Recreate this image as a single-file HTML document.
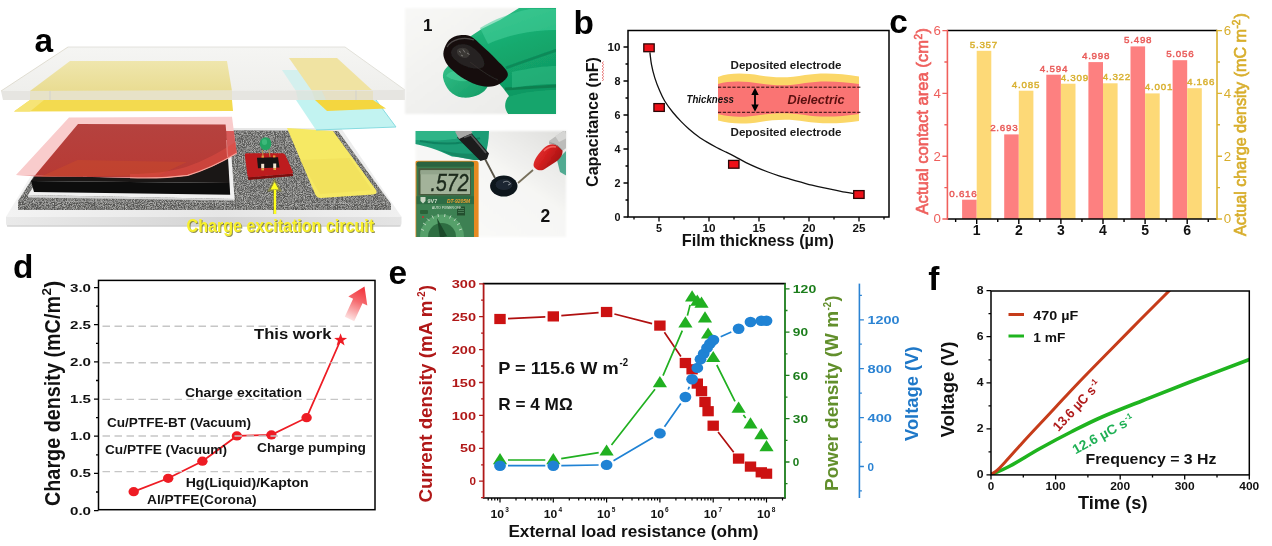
<!DOCTYPE html>
<html><head><meta charset="utf-8"><title>Figure</title>
<style>
html,body{margin:0;padding:0;background:#fff;}
body{width:1272px;height:546px;overflow:hidden;font-family:"Liberation Sans",sans-serif;}
svg{display:block;position:absolute;left:0;top:0;}
text{font-family:"Liberation Sans",sans-serif;}
.b{font-weight:bold;}
</style></head><body>
<svg width="1272" height="546" viewBox="0 0 1272 546">
<g opacity="0.999">

<defs>
<filter id="speck" x="0" y="0" width="100%" height="100%">
  <feTurbulence type="fractalNoise" baseFrequency="1.1" numOctaves="2" seed="3" result="n"/>
  <feColorMatrix in="n" type="matrix" values="0 0 0 0 0.72  0 0 0 0 0.72  0 0 0 0 0.70  1.0 1.0 0 0 -0.82" result="m"/>
  <feComposite in="m" in2="SourceGraphic" operator="in" result="c"/>
  <feMerge><feMergeNode in="SourceGraphic"/><feMergeNode in="c"/></feMerge>
</filter>
<linearGradient id="glassTop" x1="0" y1="0" x2="0" y2="1">
  <stop offset="0" stop-color="#f5f5f3"/><stop offset="1" stop-color="#efefec"/>
</linearGradient>
<linearGradient id="yelL" x1="0" y1="0" x2="0" y2="1">
  <stop offset="0" stop-color="#efe6ad"/><stop offset="1" stop-color="#e9dc92"/>
</linearGradient>
<linearGradient id="pinkG" x1="0" y1="0" x2="1" y2="1">
  <stop offset="0" stop-color="#f4b0b0"/><stop offset="1" stop-color="#f08c8c"/>
</linearGradient>
<linearGradient id="redTop" x1="0" y1="0" x2="0" y2="1">
  <stop offset="0" stop-color="#b5423f"/><stop offset="1" stop-color="#b83a34"/>
</linearGradient>
<linearGradient id="baseTop" x1="0" y1="0" x2="1" y2="0"><stop offset="0" stop-color="#f3f3f3"/><stop offset="0.55" stop-color="#e6e6e6"/><stop offset="1" stop-color="#f0f0f0"/></linearGradient>
<linearGradient id="baseFront" x1="0" y1="0" x2="1" y2="0"><stop offset="0" stop-color="#eaeaea"/><stop offset="0.55" stop-color="#d4d4d4"/><stop offset="1" stop-color="#e4e4e4"/></linearGradient>
<filter id="blur1"><feGaussianBlur stdDeviation="0.6"/></filter>
<filter id="blur2"><feGaussianBlur stdDeviation="1.2"/></filter>
</defs>
<g id="panelA">
  <!-- base plate -->
  <path d="M60,128 L341,128 L401.500,216.800 L6,216.800 Z" fill="url(#baseTop)"/>
  <path d="M6,216.800 L401.500,216.800 L401.500,223 Q401.500,226.500 398,226.500 L9.500,226.500 Q6,226.500 6,223 Z" fill="url(#baseFront)"/>
  <path d="M7,226 L400.500,226" stroke="#c9c9c9" stroke-width="1"/>
  <!-- foam -->
  <g filter="url(#speck)">
    <path d="M64,129 L338,131 L391,204 L18,201 Z" fill="#5a5a58"/>
    <path d="M18,201 L391,204 L391,210 L18,210 Z" fill="#555553"/>
  </g>
  <!-- white frame under block -->
  <path d="M76,122 L229,122 L234.500,199 L28,195 Z" fill="#f1f1f1"/>
  <path d="M28,195 L234.500,199 L234.500,200.500 L28,197.500 Z" fill="#d4d4d4"/>
  <!-- black block -->
  <path d="M78,124 L226,124 L229.500,183 L31,181 Z" fill="#1a1716"/>
  <path d="M31,181 L229.500,183 L230.200,194.800 L34,192 Z" fill="#0d0d0d"/>
  <!-- pink film -->
  <path d="M69,117.500 L232,116.700 L236.700,153.300 C222,162 207,169.600 187.700,175.400 C168,178 149,178.300 130,177.700 L16,175 Z" fill="#f9cccc"/>
  <path d="M225.600,131 L233.900,131 L236.700,153.300 L228.500,157.800 Z" fill="#d65a58"/>
  <!-- red block seen through film -->
  <path d="M78,124 L225.600,124.400 L228.500,157.500 C216,165 205,170.300 187.700,175 C168,177.500 149,177.800 130,177.200 L34,176.500 Z" fill="url(#redTop)"/>
  <path d="M16,175 L34,176.300 L130,177.200 L130,178 Z" fill="#ea8a8a"/>
  <path d="M77.600,160 L187,162 L158,175.500 L41,176.500 Z" fill="#c8492c" fill-opacity="0.55"/>
  <!-- brighter band above curl -->
  <path d="M236.700,153.300 C222,162 207,169.600 187.700,175.400 C168,178 149,178.300 130,177.700 L130,174 C150,174 168,172 186,167 C204,161 220,152 235.500,142 Z" fill="#dc4a42" fill-opacity="0.55"/>
  <path d="M236.700,153.300 C222,162 207,169.600 187.700,175.400 C168,178 149,178.300 130,177.700" fill="none" stroke="#f7a39a" stroke-width="1.100"/>
  <path d="M226.500,140 L227.500,157" stroke="#f3a0a0" stroke-width="0.800" opacity="0.8"/>
  <!-- circuit board -->
  <path d="M247.700,177.300 L293,173.500 L293,176 L248.500,180 Z" fill="#7c0e0e"/>
  <path d="M246.500,153.300 L282.500,153.300 Q284.500,153.300 285.300,155 L292.800,171.500 Q293.500,173.500 291,173.700 L250,177.200 Q247.700,177.300 247.400,175 L244.800,155 Q244.700,153.300 246.500,153.300 Z" fill="#bd1c1e"/>
  <ellipse cx="265.600" cy="143.700" rx="5.800" ry="6.500" fill="#24a463"/>
  <ellipse cx="264.500" cy="142" rx="2.600" ry="3" fill="#4fc88a" opacity="0.6"/>
  <path d="M262.500,150 L263,157 M269,150 L270,157" stroke="#b9a050" stroke-width="0.900"/>
  <path d="M257,157.700 L278,157.200 L279.500,167.400 L258,168.200 Z" fill="#171515"/>
  <rect x="261.200" y="163.800" width="3" height="4.600" fill="#f1e4d0"/><rect x="273.200" y="163.500" width="3" height="4.600" fill="#f1e4d0"/>
  <rect x="261.400" y="168.400" width="2.600" height="2" fill="#e0a040"/><rect x="273.400" y="168" width="2.600" height="2" fill="#e0a040"/>
  <rect x="261.500" y="155.600" width="2.400" height="2" fill="#e0a040"/><rect x="273" y="155.400" width="2.400" height="2" fill="#e0a040"/>
  <!-- yellow pad -->
  <path d="M287,128 L333,131 L376,190 Q378,194 373,194.500 L321,198 Q317,198 315.500,195 Z" fill="#f6e964"/>
  <path d="M300,160 L350,158 L372,190 L320,194 Z" fill="#f0de58" fill-opacity="0.6"/>
  <!-- cyan sheet lower visible part -->
  <path d="M296,100 L376,100 L396,127 L316,130 Z" fill="#bdf2f0" fill-opacity="0.92"/>
  <path d="M316,130 L396,127 L376,100" stroke="#86dbe0" stroke-width="1" fill="none"/>
  <!-- lower yellow layer left -->
  <path d="M30,100 L232,100 L233,111 L14,111.500 Z" fill="#f3da4f"/>
  <path d="M14,111.500 L30,100 L44,100 L30,111.500 Z" fill="#f6e476"/>
  <!-- lower yellow right -->
  <path d="M315,100 L373,100 L386,108.500 L327,111 Z" fill="#f4d63f"/>
  <!-- top glass plate: top face -->
  <path d="M68,47 L345,47 L405,90 L1,91 Z" fill="url(#glassTop)"/>
  <!-- cyan seen through glass -->
  <path d="M282,70 L300,70 L322,91 L296,91 Z" fill="#d4f0ee"/>
  <!-- yellow on plate -->
  <path d="M70,61 L227,61 L232,91 L30,91 Z" fill="url(#yelL)"/>
  <path d="M289,58 L337,58 L373,91 L312,91 Z" fill="#f0e3a2"/>
  <!-- front face -->
  <path d="M1,91 L405,90 L405,100 L3,100 Z" fill="#e6e5e1"/>
  <path d="M30,91 L232,91 L232,100 L30,100 Z" fill="#e7e0b8" opacity="0.6"/>
  <path d="M312,91 L373,91 L373,100 L315,100 Z" fill="#e6dcae" opacity="0.55"/>
  <path d="M296,91 L322,91 L326,100 L298,100 Z" fill="#d3e6df" opacity="0.6"/>
  <path d="M50,91 V100 M356,90.500 V100" stroke="#d2d1cc" stroke-width="1"/>
  <path d="M68,47 L1,91" stroke="#d9d6c8" stroke-width="0.8"/>
  <path d="M345,47 L405,90" stroke="#dcdad2" stroke-width="0.8"/>
  <path d="M68,47 L345,47" stroke="#dddcd6" stroke-width="0.8"/>
  <!-- arrow -->
  <g stroke="#8a8a20" stroke-width="3.2" fill="#8a8a20" opacity="0.55">
    <path d="M274.600,214 L274.600,190"/><path d="M274.600,181.500 L270,190 L279.200,190 Z"/>
  </g>
  <path d="M275,214 L275,190" stroke="#ffff1e" stroke-width="2.2"/>
  <path d="M274.600,182 L270.600,189.500 L278.600,189.500 Z" fill="#ffff1e"/>
  <!-- text -->
  <text x="187.600" y="233.200" class="b" font-size="18" textLength="187.500" lengthAdjust="spacingAndGlyphs" fill="#6d6d20" opacity="0.75" filter="url(#blur1)">Charge excitation circuit</text>
  <text x="186.600" y="232.200" class="b" font-size="18" textLength="187.500" lengthAdjust="spacingAndGlyphs" fill="#f8f02c">Charge excitation circuit</text>
</g>

<defs>
<filter id="soft" x="-5%" y="-5%" width="110%" height="110%"><feGaussianBlur stdDeviation="1.3"/></filter>
<filter id="pb" x="-10%" y="-10%" width="120%" height="120%"><feGaussianBlur stdDeviation="0.7"/></filter>
<filter id="pb2" x="-10%" y="-10%" width="120%" height="120%"><feGaussianBlur stdDeviation="2.2"/></filter>
<clipPath id="cp1"><rect x="405" y="8" width="151" height="106"/></clipPath>
<clipPath id="cp2"><rect x="415.500" y="131" width="150.500" height="106"/></clipPath>
<linearGradient id="bg1" x1="0" y1="0" x2="1" y2="1"><stop offset="0" stop-color="#f8f8f6"/><stop offset="1" stop-color="#e9e9e7"/></linearGradient>
<linearGradient id="gl1" x1="0" y1="0" x2="0.3" y2="1"><stop offset="0" stop-color="#30c088"/><stop offset="0.45" stop-color="#14aa6e"/><stop offset="1" stop-color="#0e9560"/></linearGradient>
<linearGradient id="gl2" x1="0" y1="0" x2="1" y2="1"><stop offset="0" stop-color="#33c088"/><stop offset="1" stop-color="#139a64"/></linearGradient>
<radialGradient id="blob1" cx="0.4" cy="0.35" r="0.7"><stop offset="0" stop-color="#3a3838"/><stop offset="0.5" stop-color="#161616"/><stop offset="1" stop-color="#0a0a0a"/></radialGradient>
<linearGradient id="bg2" x1="0" y1="1" x2="1" y2="0"><stop offset="0" stop-color="#fbfbfa"/><stop offset="0.6" stop-color="#f6f6f4"/><stop offset="1" stop-color="#dededc"/></linearGradient>
<linearGradient id="redp" x1="0" y1="0" x2="1" y2="0.6"><stop offset="0" stop-color="#e84040"/><stop offset="0.5" stop-color="#d41f1f"/><stop offset="1" stop-color="#9c1010"/></linearGradient>
</defs>
<g id="photo1">
  <rect x="405" y="8" width="151" height="106" fill="url(#bg1)" filter="url(#soft)"/>
  <g clip-path="url(#cp1)" filter="url(#pb)">
    <!-- hand right -->
    <path d="M468,38 L482,28.700 L500,20 L519,8 L557,8 L557,115 L509,115 C505,108 505,101 509,96 L503,88 L480,62 Z" fill="url(#gl1)"/>
    <!-- creases -->
    <path d="M506,68 C522,62 540,56 557,50" stroke="#0c8355" stroke-width="2.5" fill="none" opacity="0.8"/>
    <path d="M505,89 C520,88 540,87 557,86" stroke="#0a774a" stroke-width="3" fill="none" opacity="0.75"/>
    <path d="M508,97 C524,92 540,90 557,90 L557,115 L509,115 C504,109 504,103 508,97 Z" fill="#17a56c"/>
    <path d="M480,28 C495,19 510,13 530,9 L557,9 L557,30 C530,30 505,36 488,44 Z" fill="#45d09a" opacity="0.55"/>
    <path d="M512,72 C530,68 545,66 557,66 L557,84 C540,84 525,86 512,88 Z" fill="#3cc890" opacity="0.4"/>
    <!-- thumb -->
    <path d="M443,77.500 C442,70 448,64 456,64 L488,86 C484,94 474,98.500 462,97.500 C452,96 445,88 443,77.500 Z" fill="url(#gl2)"/>
    <path d="M446,76 C449,71 456,70 462,72 L474,80 C466,82 455,82 446,76 Z" fill="#52d8a2" opacity="0.5"/>
    <!-- blob -->
    <path d="M443.6,51.3 C444.3,48.0 446.4,42.7 449.1,40.0 C451.8,37.3 456.0,35.9 459.6,35.3 C463.2,34.7 467.1,34.7 470.9,36.5 C474.7,38.3 478.0,42.3 482.2,46.1 C486.4,49.9 491.9,54.9 496.1,59.2 C500.3,63.6 505.9,68.7 507.4,72.2 C508.8,75.7 507.0,77.7 504.8,80.0 C502.6,82.3 498.4,85.1 494.4,86.1 C490.3,87.1 485.4,86.9 480.5,85.8 C475.6,84.7 469.7,82.0 464.8,79.2 C459.9,76.4 454.2,71.9 450.9,68.7 C447.6,65.5 446.0,62.9 444.8,60.0 C443.6,57.1 442.9,54.6 443.6,51.3 Z" fill="#15100f"/>
    <path d="M451,52 C453,45 462,42 470,46 C478,50 486,60 484,66 C480,71 466,68 458,62 C454,59 451,56 451,52 Z" fill="#2e2a29" opacity="0.75"/>
    <path d="M457,50 C460,47 465,47 468,50 C471,54 469,58 465,58 C460,58 456,54 457,50 Z" fill="#4a4644" opacity="0.6"/>
    <path d="M447,47 C452,39 464,36.500 474,40" stroke="#5e5856" stroke-width="1.200" fill="none" opacity="0.8"/>
    <path d="M459,51 l2,1.500 M463,49.500 l2,3 M467,53 l2.500,1.500 M461,55 l2,1" stroke="#9a9694" stroke-width="0.900" opacity="0.75"/>
    <path d="M470,62 C478,68 488,76 498,80" stroke="#3a3634" stroke-width="1" fill="none" opacity="0.6"/>
  </g>
  <text x="423" y="30.500" class="b" font-size="17" fill="#111">1</text>
</g>
<g id="photo2">
  <rect x="415.500" y="131" width="150.500" height="106" fill="url(#bg2)" filter="url(#soft)"/>
  <g clip-path="url(#cp2)" filter="url(#pb)">
    <!-- glove -->
    <path d="M415,131 L489,131 C489,140 487,150 484,160 L474,160 C466,158 458,157 452,156.500 C444,153 438,150 431,148 C425,146 420,145 415,144 Z" fill="#1a9c74"/>
    <path d="M415,131 L474,131 C466,139 442,142 415,140 Z" fill="#3ec494" opacity="0.6"/>
    <path d="M420,141 C442,145 464,144 480,138" stroke="#0c7556" stroke-width="2" fill="none" opacity="0.65"/>
    <path d="M440,150 C455,154 470,155 485,152 L484,160 L474,160 C462,158 450,156 440,150 Z" fill="#0f7f5c" opacity="0.7"/>
    <!-- multimeter -->
    <rect x="414.600" y="160.800" width="64" height="80" rx="3" fill="#e68a22"/>
    <rect x="416.500" y="161.800" width="57.500" height="79" rx="2" fill="#397a4e"/>
    <rect x="416.500" y="161.800" width="57.500" height="5" rx="2" fill="#2c6340"/>
    <rect x="418.400" y="168.200" width="52.600" height="27.300" fill="#485a3e"/>
    <rect x="420.500" y="170.300" width="49.500" height="23.700" fill="#a3b39a"/>
    <rect x="420.500" y="170.300" width="49.500" height="4" fill="#93a58c"/>
    <text x="430.500" y="190.800" font-size="24" font-style="italic" textLength="38" lengthAdjust="spacingAndGlyphs" fill="#1c2a1c" stroke="#1c2a1c" stroke-width="0.450">.572</text>
    <rect x="416.500" y="196.200" width="57.500" height="8" fill="#2f6c44"/>
    <path d="M420.500,197 h5 v4 l-2.500,2.500 l-2.500,-2.500 Z" fill="#c9d6c4"/>
    <text x="427.500" y="202.800" font-size="5.500" font-weight="bold" fill="#cfdccb">9V7</text>
    <text x="447" y="202.800" font-size="5.200" font-weight="bold" font-style="italic" textLength="23" lengthAdjust="spacingAndGlyphs" fill="#f0a030">DT-9205M</text>
    <rect x="416.500" y="204.200" width="57.500" height="37" fill="#3d8152"/>
    <rect x="420" y="210" width="8" height="4" rx="1" fill="#2b6239"/>
    <circle cx="423" cy="217" r="1" fill="#c03030"/>
    <rect x="457" y="206.500" width="8" height="9" fill="#24502f"/>
    <path d="M458,208.500 h6 M458,210.500 h6 M458,212.500 h6" stroke="#5f9a6e" stroke-width="0.600"/>
    <circle cx="442" cy="236.500" r="22" fill="#56a06a"/>
    <circle cx="442" cy="237" r="14" fill="#2e6e42"/>
    <path d="M437,218 L440,238 L447,236 Z" fill="#1b4a2a"/>
    <g stroke="#e6efe2" stroke-width="0.800" opacity="0.85">
      <path d="M421,229 l3,1.500 M423,223 l3,2 M427,218.500 l2.500,2.500 M432,215.500 l1.500,3 M438,214 l0.500,3 M445,214 l-0.500,3 M451,215.500 l-1.500,3 M456,218.500 l-2,2.500 M460,223 l-3,2 M462,229 l-3,1"/>
    </g>
    <text x="432" y="209" font-size="3.200" fill="#e6efe2">AUTO POWER OFF</text>
    <!-- black probe -->
    <path d="M484.500,158 L495,178" stroke="#5a5448" stroke-width="1.800"/>
    <path d="M457,137.500 L470,131.500 L489,153.500 L487,159 L480.500,161 Z" fill="#1a1a1a"/>
    <path d="M455,131.500 L469,127.500 L472.500,133 L459,139 Z" fill="#a9a9a7"/>
    <path d="M464,137.500 L471,135 L486,153" stroke="#585858" stroke-width="1.800" fill="none"/>
    <!-- red probe -->
    <path d="M533,170 L518,183" stroke="#77705c" stroke-width="1.800"/>
    <path d="M557,160 L567,150 L567,176 L560,172 Z" fill="#2a9a7c" opacity="0.8"/>
    <path d="M543,149 C547,144.500 553,143 558,145.500 L562.500,150 C563,154 561,158 557,161 L543.500,169.800 C539,171.500 534,169 533.500,165 C534,160 538,154 543,149 Z" fill="url(#redp)"/>
    <path d="M544,151 C548,147 552,146 556,147" stroke="#ff7a70" stroke-width="1.600" fill="none" opacity="0.7"/>
    <path d="M549,141 L564,130.500 L568,131 L568,147 L562.500,150.500 L558,145.500 C555,143.500 552,143 549,144 Z" fill="#bcbcba"/>
    <path d="M555,136 L565,130.500 L567,138 L559,142 Z" fill="#d6d6d4"/>
    <path d="M549.500,143 C553,143 558,145 562,150" stroke="#8a8a88" stroke-width="1" fill="none"/>
    <!-- blob -->
    <ellipse cx="503.800" cy="186.100" rx="13.700" ry="10.500" fill="#0d141b"/>
    <ellipse cx="504" cy="184.500" rx="8.500" ry="5.500" fill="#1d2730"/>
    <path d="M503,182.500 C506,180.500 509,181 510.500,184 L508,185" stroke="#8a9098" stroke-width="1" fill="none"/>
  </g>
  <text x="540.500" y="222" class="b" font-size="17.500" fill="#111">2</text>
</g>
<g id="panelB">
<path d="M718,77 C730,72.500 745,73 760,75.500 C775,78 790,78 805,75 C820,72.500 840,73 859,76.500 L859,121 C840,124 820,124 805,121.500 C790,119 775,119.500 760,122 C745,124.500 730,124 718,120.500 Z" fill="#fbd768"/>
<path d="M718,84 C730,80.500 745,81 760,83.500 C775,86 790,86 805,83 C820,80.500 840,81 859,84 L859,114 C840,117 820,117.500 805,115 C790,112.500 775,112.500 760,115 C745,117.500 730,117.500 718,114 Z" fill="#fa7473"/>
<path d="M718,87.200 L861,87.200 M718,112.300 L861,112.300" stroke="#2a0a0a" stroke-width="1" stroke-dasharray="3.200,1.600"/>
<path d="M755,91 L755,108.500" stroke="#000" stroke-width="1.800"/>
<path d="M755,87.800 L751.300,95 L758.700,95 Z M755,111.800 L751.300,104.500 L758.700,104.500 Z" fill="#000"/>
<text x="730.500" y="69" class="b" font-size="11" textLength="111" lengthAdjust="spacingAndGlyphs" fill="#1a1a1a">Deposited electrode</text>
<text x="730.500" y="136" class="b" font-size="11" textLength="111" lengthAdjust="spacingAndGlyphs" fill="#1a1a1a">Deposited electrode</text>
<text x="686.500" y="103" class="b" font-style="italic" font-size="10" textLength="47.500" lengthAdjust="spacingAndGlyphs" fill="#111">Thickness</text>
<text x="787.500" y="104" class="b" font-style="italic" font-size="13.500" textLength="57" lengthAdjust="spacingAndGlyphs" fill="#5a1010">Dielectric</text>
<path d="M649.9,52.4 C650.2,54.5 650.7,60.5 651.5,64.7 C652.3,69.0 653.4,73.5 654.8,77.9 C656.2,82.3 658.1,87.2 659.8,91.1 C661.4,94.9 662.5,97.4 664.7,101.0 C666.9,104.6 670.2,109.1 673.0,112.5 C675.8,115.9 678.5,118.8 681.2,121.6 C683.9,124.4 686.4,126.7 689.2,129.2 C692.1,131.7 695.2,134.3 698.3,136.5 C701.3,138.7 704.5,140.6 707.5,142.4 C710.5,144.2 713.6,145.9 716.6,147.5 C719.6,149.1 722.7,150.5 725.8,152.0 C728.9,153.5 731.6,154.8 735.0,156.6 C738.4,158.4 742.3,160.8 746.0,162.6 C749.7,164.4 753.3,166.0 757.0,167.6 C760.7,169.2 764.3,170.6 768.0,172.0 C771.7,173.4 775.3,174.6 779.0,175.8 C782.7,177.0 786.3,178.0 790.0,179.1 C793.7,180.2 797.3,181.2 801.0,182.2 C804.7,183.2 808.3,184.3 812.0,185.2 C815.7,186.1 819.3,186.9 823.0,187.7 C826.7,188.5 830.3,189.2 834.0,189.9 C837.7,190.6 841.8,191.5 845.0,192.1 C848.2,192.7 851.9,193.2 853.3,193.4" fill="none" stroke="#111" stroke-width="1.300"/>
<rect x="628" y="30.5" width="261" height="186.5" fill="none" stroke="#000" stroke-width="1.500"/>
<path d="M628,217 h-4.500 M628,183 h-4.500 M628,149 h-4.500 M628,115 h-4.500 M628,81 h-4.500 M628,47 h-4.500 M628,200 h-2.500 M628,166 h-2.500 M628,132 h-2.500 M628,98 h-2.500 M628,64 h-2.500 M659,217 v4.500 M709,217 v4.500 M759,217 v4.500 M809,217 v4.500 M859,217 v4.500 M634,217 v2.500 M684,217 v2.500 M734,217 v2.500 M784,217 v2.500 M834,217 v2.500 M884,217 v2.500" stroke="#000" stroke-width="1.300" fill="none"/>
<text x="620.5" y="220.6" class="b" font-size="10" text-anchor="end" textLength="6" lengthAdjust="spacingAndGlyphs" fill="#111">0</text>
<text x="620.5" y="186.6" class="b" font-size="10" text-anchor="end" textLength="6" lengthAdjust="spacingAndGlyphs" fill="#111">2</text>
<text x="620.5" y="152.6" class="b" font-size="10" text-anchor="end" textLength="6" lengthAdjust="spacingAndGlyphs" fill="#111">4</text>
<text x="620.5" y="118.6" class="b" font-size="10" text-anchor="end" textLength="6" lengthAdjust="spacingAndGlyphs" fill="#111">6</text>
<text x="620.5" y="84.6" class="b" font-size="10" text-anchor="end" textLength="6" lengthAdjust="spacingAndGlyphs" fill="#111">8</text>
<text x="620.5" y="50.6" class="b" font-size="10" text-anchor="end" textLength="13" lengthAdjust="spacingAndGlyphs" fill="#111">10</text>
<text x="659" y="231.8" class="b" font-size="10" text-anchor="middle" textLength="6" lengthAdjust="spacingAndGlyphs" fill="#111">5</text>
<text x="709" y="231.8" class="b" font-size="10" text-anchor="middle" textLength="13" lengthAdjust="spacingAndGlyphs" fill="#111">10</text>
<text x="759" y="231.8" class="b" font-size="10" text-anchor="middle" textLength="13" lengthAdjust="spacingAndGlyphs" fill="#111">15</text>
<text x="809" y="231.8" class="b" font-size="10" text-anchor="middle" textLength="13" lengthAdjust="spacingAndGlyphs" fill="#111">20</text>
<text x="859" y="231.8" class="b" font-size="10" text-anchor="middle" textLength="13" lengthAdjust="spacingAndGlyphs" fill="#111">25</text>
<rect x="643.8" y="43.9" width="10.400" height="7.800" fill="#ee1018" stroke="#2a0606" stroke-width="1.300"/>
<rect x="653.9" y="103.6" width="10.400" height="7.800" fill="#ee1018" stroke="#2a0606" stroke-width="1.300"/>
<rect x="728.6" y="160.4" width="10.400" height="7.800" fill="#ee1018" stroke="#2a0606" stroke-width="1.300"/>
<rect x="853.7" y="190.6" width="10.400" height="7.800" fill="#ee1018" stroke="#2a0606" stroke-width="1.300"/>
<text transform="translate(598.300,122) rotate(-90)" class="b" font-size="16" text-anchor="middle" textLength="130" lengthAdjust="spacingAndGlyphs" fill="#111">Capacitance (nF)</text>
<text x="681.800" y="246" class="b" font-size="16.500" textLength="152" lengthAdjust="spacingAndGlyphs" fill="#111">Film thickness (µm)</text>
<path d="M602.300,81 l1.200,-1.500 l-1.200,-1.500 l1.200,-1.500 l-1.200,-1.500 l1.200,-1.500 l-1.200,-1.500 l1.200,-1.500 l-1.200,-1.500 l1.200,-1.500 l-1.200,-1.500 l1.200,-1.500 l-1.200,-1.500 l1.200,-1.500" fill="none" stroke="#e03c3c" stroke-width="0.700"/>
</g><g id="panelC">
<rect x="962.1" y="199.7" width="14.6" height="19.3" fill="#fd8080"/>
<rect x="976.7" y="50.8" width="14.6" height="168.2" fill="#fdd977"/>
<rect x="1004.2" y="134.4" width="14.6" height="84.6" fill="#fd8080"/>
<rect x="1018.8" y="90.7" width="14.6" height="128.3" fill="#fdd977"/>
<rect x="1046.3" y="74.7" width="14.6" height="144.3" fill="#fd8080"/>
<rect x="1060.9" y="83.7" width="14.6" height="135.3" fill="#fdd977"/>
<rect x="1088.4" y="62.1" width="14.6" height="156.9" fill="#fd8080"/>
<rect x="1103.0" y="83.3" width="14.6" height="135.7" fill="#fdd977"/>
<rect x="1130.5" y="46.4" width="14.6" height="172.6" fill="#fd8080"/>
<rect x="1145.1" y="93.4" width="14.6" height="125.6" fill="#fdd977"/>
<rect x="1172.6" y="60.2" width="14.6" height="158.8" fill="#fd8080"/>
<rect x="1187.2" y="88.2" width="14.6" height="130.8" fill="#fdd977"/>
<text x="983.5" y="47.6" font-size="9.800" text-anchor="middle" textLength="27.500" lengthAdjust="spacing" fill="#d9b132" stroke="#d9b132" stroke-width="0.450">5.357</text>
<text x="1025.6" y="87.5" font-size="9.800" text-anchor="middle" textLength="27.500" lengthAdjust="spacing" fill="#d9b132" stroke="#d9b132" stroke-width="0.450">4.085</text>
<text x="1074.4" y="80.5" font-size="9.800" text-anchor="middle" textLength="27.500" lengthAdjust="spacing" fill="#d9b132" stroke="#d9b132" stroke-width="0.450">4.309</text>
<text x="1116.5" y="80.1" font-size="9.800" text-anchor="middle" textLength="27.500" lengthAdjust="spacing" fill="#d9b132" stroke="#d9b132" stroke-width="0.450">4.322</text>
<text x="1158.6" y="90.2" font-size="9.800" text-anchor="middle" textLength="27.500" lengthAdjust="spacing" fill="#d9b132" stroke="#d9b132" stroke-width="0.450">4.001</text>
<text x="1200.7" y="85.0" font-size="9.800" text-anchor="middle" textLength="27.500" lengthAdjust="spacing" fill="#d9b132" stroke="#d9b132" stroke-width="0.450">4.166</text>
<text x="963.0" y="196.5" font-size="9.800" text-anchor="middle" textLength="27.500" lengthAdjust="spacing" fill="#e95c5a" stroke="#e95c5a" stroke-width="0.450">0.616</text>
<text x="1003.9" y="131.2" font-size="9.800" text-anchor="middle" textLength="27.500" lengthAdjust="spacing" fill="#e95c5a" stroke="#e95c5a" stroke-width="0.450">2.693</text>
<text x="1053.6" y="71.5" font-size="9.800" text-anchor="middle" textLength="27.500" lengthAdjust="spacing" fill="#e95c5a" stroke="#e95c5a" stroke-width="0.450">4.594</text>
<text x="1095.7" y="58.9" font-size="9.800" text-anchor="middle" textLength="27.500" lengthAdjust="spacing" fill="#e95c5a" stroke="#e95c5a" stroke-width="0.450">4.998</text>
<text x="1137.8" y="43.2" font-size="9.800" text-anchor="middle" textLength="27.500" lengthAdjust="spacing" fill="#e95c5a" stroke="#e95c5a" stroke-width="0.450">5.498</text>
<text x="1179.9" y="57.0" font-size="9.800" text-anchor="middle" textLength="27.500" lengthAdjust="spacing" fill="#e95c5a" stroke="#e95c5a" stroke-width="0.450">5.056</text>
<path d="M947.4,30.5 H1217" stroke="#000" stroke-width="1.400"/>
<path d="M947.4,219 H1217" stroke="#000" stroke-width="1.400"/>
<path d="M947.4,29.8 V219.7" stroke="#f0605c" stroke-width="1.600"/>
<path d="M1217,29.8 V219.7" stroke="#dcb432" stroke-width="1.600"/>
<path d="M947.4,219 h-5 M947.4,156.2 h-5 M947.4,93.4 h-5 M947.4,30.6 h-5 M947.4,187.6 h-3 M947.4,124.8 h-3 M947.4,62 h-3" stroke="#f0605c" stroke-width="1.400"/>
<path d="M1217,219 h5 M1217,156.2 h5 M1217,93.4 h5 M1217,30.6 h5 M1217,187.6 h3 M1217,124.8 h3 M1217,62 h3" stroke="#dcb432" stroke-width="1.400"/>
<path d="M976.7,219 v5 M1018.8,219 v5 M1060.9,219 v5 M1103,219 v5 M1145.1,219 v5 M1187.2,219 v5 M955.65,219 v3 M997.75,219 v3 M1039.85,219 v3 M1081.95,219 v3 M1124.05,219 v3 M1166.15,219 v3 M1208.25,219 v3" stroke="#000" stroke-width="1.400"/>
<text x="941" y="223.4" font-size="13.300" text-anchor="end" fill="#ee5f5c">0</text>
<text x="1223.8" y="223.4" font-size="13.300" text-anchor="start" fill="#d8ae2c">0</text>
<text x="941" y="160.6" font-size="13.300" text-anchor="end" fill="#ee5f5c">2</text>
<text x="1223.8" y="160.6" font-size="13.300" text-anchor="start" fill="#d8ae2c">2</text>
<text x="941" y="97.8" font-size="13.300" text-anchor="end" fill="#ee5f5c">4</text>
<text x="1223.8" y="97.8" font-size="13.300" text-anchor="start" fill="#d8ae2c">4</text>
<text x="941" y="35" font-size="13.300" text-anchor="end" fill="#ee5f5c">6</text>
<text x="1223.8" y="35" font-size="13.300" text-anchor="start" fill="#d8ae2c">6</text>
<text x="976.7" y="235.3" class="b" font-size="14" text-anchor="middle" fill="#111">1</text>
<text x="1018.8" y="235.3" class="b" font-size="14" text-anchor="middle" fill="#111">2</text>
<text x="1060.9" y="235.3" class="b" font-size="14" text-anchor="middle" fill="#111">3</text>
<text x="1103" y="235.3" class="b" font-size="14" text-anchor="middle" fill="#111">4</text>
<text x="1145.1" y="235.3" class="b" font-size="14" text-anchor="middle" fill="#111">5</text>
<text x="1187.2" y="235.3" class="b" font-size="14" text-anchor="middle" fill="#111">6</text>
<g transform="translate(928.300,214.500) rotate(-90)" fill="#ee5f5c" stroke="#ee5f5c" stroke-width="0.650"><text x="0" y="0" font-size="16" textLength="174.500" lengthAdjust="spacingAndGlyphs">Actual contact area (cm</text><text x="175" y="-6" font-size="10">2</text><text x="181" y="0" font-size="16">)</text></g>
<g transform="translate(1245.500,236) rotate(-90)" fill="#d8ae2c" stroke="#d8ae2c" stroke-width="0.650"><text x="0" y="0" font-size="16" textLength="207" lengthAdjust="spacingAndGlyphs">Actual charge density (mC m</text><text x="207.500" y="-6" font-size="10">-2</text><text x="217.500" y="0" font-size="16">)</text></g>
</g><g id="panelD">
<defs><linearGradient id="arrG" x1="364" y1="287" x2="350" y2="319" gradientUnits="userSpaceOnUse"><stop offset="0" stop-color="#f23038"/><stop offset="0.45" stop-color="#f56a6e"/><stop offset="1" stop-color="#fde0e0"/></linearGradient></defs>
<path d="M133.7,491.7 L168.2,478.3 L202.4,461.2 L236.9,435.9 L271.4,434.9 L306.6,417.7 L340.6,340.0" fill="none" stroke="#ee1c24" stroke-width="1.800"/>
<ellipse cx="133.7" cy="491.7" rx="5.200" ry="4.600" fill="#ee1c24"/>
<ellipse cx="168.2" cy="478.3" rx="5.200" ry="4.600" fill="#ee1c24"/>
<ellipse cx="202.4" cy="461.2" rx="5.200" ry="4.600" fill="#ee1c24"/>
<ellipse cx="236.9" cy="435.9" rx="5.200" ry="4.600" fill="#ee1c24"/>
<ellipse cx="271.4" cy="434.9" rx="5.200" ry="4.600" fill="#ee1c24"/>
<ellipse cx="306.6" cy="417.7" rx="5.200" ry="4.600" fill="#ee1c24"/>
<path d="M340.6,333.2 L342.2,337.8 L347.1,337.9 L343.2,340.8 L344.6,345.5 L340.6,342.7 L336.6,345.5 L338.0,340.8 L334.1,337.9 L339.0,337.8 Z" fill="#ee1c24"/>
<path d="M99.5,326.2 H372" stroke="#c6c6c6" stroke-width="1.400" stroke-dasharray="7.500,4.500" stroke-dashoffset="-3"/>
<path d="M99.5,362.8 H372" stroke="#c6c6c6" stroke-width="1.400" stroke-dasharray="7.500,4.500" stroke-dashoffset="-3"/>
<path d="M99.5,399.4 H372" stroke="#c6c6c6" stroke-width="1.400" stroke-dasharray="7.500,4.500" stroke-dashoffset="-3"/>
<path d="M99.5,436.0 H372" stroke="#c6c6c6" stroke-width="1.400" stroke-dasharray="7.500,4.500" stroke-dashoffset="-3"/>
<path d="M99.5,471.6 H372" stroke="#c6c6c6" stroke-width="1.400" stroke-dasharray="7.500,4.500" stroke-dashoffset="-3"/>
<path d="M364.5,286.5 L367.3,305.4 L362.5,303.2 L354.2,321.2 L344.8,316.8 L353.1,298.8 L348.3,296.6 Z" fill="url(#arrG)"/>
<rect x="98.5" y="280.4" width="276.5" height="229.3" fill="none" stroke="#000" stroke-width="1.500"/>
<path d="M98.5,510.6 h-4.500 M98.5,473.4 h-4.500 M98.5,436.2 h-4.500 M98.5,399.1 h-4.500 M98.5,361.9 h-4.500 M98.5,324.7 h-4.500 M98.5,287.6 h-4.500 M98.5,492.0 h-2.500 M98.5,454.8 h-2.500 M98.5,417.7 h-2.500 M98.5,380.5 h-2.500 M98.5,343.3 h-2.500 M98.5,306.1 h-2.500" stroke="#000" stroke-width="1.300"/>
<text x="91" y="514.5" class="b" font-size="11" text-anchor="end" textLength="21" lengthAdjust="spacingAndGlyphs" fill="#111">0.0</text>
<text x="91" y="477.3" class="b" font-size="11" text-anchor="end" textLength="21" lengthAdjust="spacingAndGlyphs" fill="#111">0.5</text>
<text x="91" y="440.1" class="b" font-size="11" text-anchor="end" textLength="21" lengthAdjust="spacingAndGlyphs" fill="#111">1.0</text>
<text x="91" y="403.0" class="b" font-size="11" text-anchor="end" textLength="21" lengthAdjust="spacingAndGlyphs" fill="#111">1.5</text>
<text x="91" y="365.8" class="b" font-size="11" text-anchor="end" textLength="21" lengthAdjust="spacingAndGlyphs" fill="#111">2.0</text>
<text x="91" y="328.6" class="b" font-size="11" text-anchor="end" textLength="21" lengthAdjust="spacingAndGlyphs" fill="#111">2.5</text>
<text x="91" y="291.5" class="b" font-size="11" text-anchor="end" textLength="21" lengthAdjust="spacingAndGlyphs" fill="#111">3.0</text>
<text x="254" y="338.6" class="b" font-size="14.5" textLength="77.5" lengthAdjust="spacingAndGlyphs" fill="#141414">This work</text>
<text x="185" y="396.6" class="b" font-size="13" textLength="117" lengthAdjust="spacingAndGlyphs" fill="#141414">Charge excitation</text>
<text x="107" y="427" class="b" font-size="13" textLength="144" lengthAdjust="spacingAndGlyphs" fill="#141414">Cu/PTFE-BT (Vacuum)</text>
<text x="105" y="454.3" class="b" font-size="13" textLength="122" lengthAdjust="spacingAndGlyphs" fill="#141414">Cu/PTFE (Vacuum)</text>
<text x="257" y="452.3" class="b" font-size="13" textLength="109" lengthAdjust="spacingAndGlyphs" fill="#141414">Charge pumping</text>
<text x="185.7" y="487" class="b" font-size="13" textLength="123" lengthAdjust="spacingAndGlyphs" fill="#141414">Hg(Liquid)/Kapton</text>
<text x="147" y="504" class="b" font-size="13" textLength="109.5" lengthAdjust="spacingAndGlyphs" fill="#141414">Al/PTFE(Corona)</text>
<g transform="translate(59.700,506) rotate(-90)" fill="#111"><text x="0" y="0" class="b" font-size="22.500" textLength="210" lengthAdjust="spacingAndGlyphs">Charge density (mC/m</text><text x="210.500" y="-8.500" class="b" font-size="13.500">2</text><text x="218.300" y="0" class="b" font-size="22.500" textLength="7" lengthAdjust="spacingAndGlyphs">)</text></g>
</g><g id="panelE">
<path d="M508.0,318.6 L545.3,316.8 M561.3,315.7 L598.6,312.7 M614.4,314.0 L652.1,323.6 M664.4,332.2 L680.9,356.4 M718.1,432.0 L733.7,452.3" fill="none" stroke="#b01010" stroke-width="1.700"/>
<path d="M508.0,460.0 L545.3,460.0 M561.2,458.7 L598.7,452.7 M611.5,445.1 L655.0,389.3 M663.0,375.6 L682.3,330.7 M687.4,315.6 L690.1,304.9 M709.8,342.2 L711.5,350.1 M716.8,365.0 L735.0,401.4 M743.4,414.9 L745.7,417.9" fill="none" stroke="#21b021" stroke-width="1.700"/>
<path d="M508.0,465.7 L545.3,465.7 M561.3,465.6 L598.6,465.0 M613.5,460.8 L653.0,437.5 M664.5,426.8 L680.8,403.6 M688.2,389.5 L689.3,386.8 M720.7,336.7 L731.3,332.0" fill="none" stroke="#1f82d4" stroke-width="1.700"/>
<rect x="494.3" y="313.9" width="11.400" height="10.200" fill="#cc1212"/>
<rect x="547.6" y="311.3" width="11.400" height="10.200" fill="#cc1212"/>
<rect x="600.9" y="306.9" width="11.400" height="10.200" fill="#cc1212"/>
<rect x="654.2" y="320.5" width="11.400" height="10.200" fill="#cc1212"/>
<rect x="679.7" y="357.9" width="11.400" height="10.200" fill="#cc1212"/>
<rect x="686.4" y="364.2" width="11.400" height="10.200" fill="#cc1212"/>
<rect x="691.6" y="378.5" width="11.400" height="10.200" fill="#cc1212"/>
<rect x="695.8" y="386.1" width="11.400" height="10.200" fill="#cc1212"/>
<rect x="699.3" y="396.9" width="11.400" height="10.200" fill="#cc1212"/>
<rect x="702.4" y="406.1" width="11.400" height="10.200" fill="#cc1212"/>
<rect x="707.5" y="420.6" width="11.400" height="10.200" fill="#cc1212"/>
<rect x="732.9" y="453.5" width="11.400" height="10.200" fill="#cc1212"/>
<rect x="744.8" y="461.5" width="11.400" height="10.200" fill="#cc1212"/>
<rect x="755.6" y="467.2" width="11.400" height="10.200" fill="#cc1212"/>
<rect x="760.8" y="468.6" width="11.400" height="10.200" fill="#cc1212"/>
<path d="M500.0,453.0 l7.100,11.200 h-14.200 Z" fill="#21b021"/>
<path d="M553.3,453.0 l7.100,11.200 h-14.200 Z" fill="#21b021"/>
<path d="M606.6,444.4 l7.100,11.200 h-14.200 Z" fill="#21b021"/>
<path d="M659.9,376.0 l7.100,11.200 h-14.200 Z" fill="#21b021"/>
<path d="M685.4,316.3 l7.100,11.200 h-14.200 Z" fill="#21b021"/>
<path d="M692.1,290.2 l7.100,11.200 h-14.200 Z" fill="#21b021"/>
<path d="M697.3,294.5 l7.100,11.200 h-14.200 Z" fill="#21b021"/>
<path d="M701.5,296.5 l7.100,11.200 h-14.200 Z" fill="#21b021"/>
<path d="M705.0,311.2 l7.100,11.200 h-14.200 Z" fill="#21b021"/>
<path d="M708.1,327.4 l7.100,11.200 h-14.200 Z" fill="#21b021"/>
<path d="M713.2,350.9 l7.100,11.200 h-14.200 Z" fill="#21b021"/>
<path d="M738.6,401.5 l7.100,11.200 h-14.200 Z" fill="#21b021"/>
<path d="M750.5,417.3 l7.100,11.200 h-14.200 Z" fill="#21b021"/>
<path d="M761.3,428.0 l7.100,11.200 h-14.200 Z" fill="#21b021"/>
<path d="M766.5,440.0 l7.100,11.200 h-14.200 Z" fill="#21b021"/>
<ellipse cx="500.0" cy="465.7" rx="5.900" ry="5.200" fill="#1f82d4"/>
<ellipse cx="553.3" cy="465.7" rx="5.900" ry="5.200" fill="#1f82d4"/>
<ellipse cx="606.6" cy="464.9" rx="5.900" ry="5.200" fill="#1f82d4"/>
<ellipse cx="659.9" cy="433.4" rx="5.900" ry="5.200" fill="#1f82d4"/>
<ellipse cx="685.4" cy="397.0" rx="5.900" ry="5.200" fill="#1f82d4"/>
<ellipse cx="692.1" cy="379.3" rx="5.900" ry="5.200" fill="#1f82d4"/>
<ellipse cx="697.3" cy="367.9" rx="5.900" ry="5.200" fill="#1f82d4"/>
<ellipse cx="700.5" cy="359.3" rx="5.900" ry="5.200" fill="#1f82d4"/>
<ellipse cx="703.7" cy="353.6" rx="5.900" ry="5.200" fill="#1f82d4"/>
<ellipse cx="707.0" cy="347.9" rx="5.900" ry="5.200" fill="#1f82d4"/>
<ellipse cx="710.0" cy="343.6" rx="5.900" ry="5.200" fill="#1f82d4"/>
<ellipse cx="713.4" cy="340.0" rx="5.900" ry="5.200" fill="#1f82d4"/>
<ellipse cx="738.6" cy="328.7" rx="5.900" ry="5.200" fill="#1f82d4"/>
<ellipse cx="750.5" cy="322.0" rx="5.900" ry="5.200" fill="#1f82d4"/>
<ellipse cx="761.3" cy="320.7" rx="5.900" ry="5.200" fill="#1f82d4"/>
<ellipse cx="766.5" cy="320.7" rx="5.900" ry="5.200" fill="#1f82d4"/>
<path d="M482.8,283.6 H785.8 M482.8,498 H785.8" stroke="#000" stroke-width="1.600"/>
<path d="M483.6,283.6 V498" stroke="#b01818" stroke-width="1.800"/>
<path d="M785,283.6 V498" stroke="#1b7d1b" stroke-width="1.800"/>
<path d="M859.400,283.6 V498" stroke="#2b83d3" stroke-width="1.600"/>
<path d="M483.6,481.2 h-4.500 M483.6,448.3 h-4.500 M483.6,415.4 h-4.500 M483.6,382.5 h-4.500 M483.6,349.6 h-4.500 M483.6,316.7 h-4.500 M483.6,283.8 h-4.500 M483.6,497.6 h-2.500 M483.6,464.8 h-2.500 M483.6,431.8 h-2.500 M483.6,398.9 h-2.500 M483.6,366.0 h-2.500 M483.6,333.1 h-2.500 M483.6,300.2 h-2.500" stroke="#b01818" stroke-width="1.300"/>
<path d="M785,462.0 h4.500 M785,418.7 h4.500 M785,375.4 h4.500 M785,332.1 h4.500 M785,288.8 h4.500 M785,483.6 h2.500 M785,440.4 h2.500 M785,397.1 h2.500 M785,353.8 h2.500 M785,310.5 h2.500" stroke="#1b7d1b" stroke-width="1.300"/>
<path d="M859.400,466.5 h4.500 M859.400,417.6 h4.500 M859.400,368.7 h4.500 M859.400,319.8 h4.500 M859.400,490.9 h2.500 M859.400,442.1 h2.500 M859.400,393.1 h2.500 M859.400,344.2 h2.500 M859.400,295.4 h2.500" stroke="#2b83d3" stroke-width="1.300"/>
<path d="M500.0,498 v4.500 M553.3,498 v4.500 M606.6,498 v4.500 M659.9,498 v4.500 M713.2,498 v4.500 M766.5,498 v4.500 M488.2,498 v2.500 M491.7,498 v2.500 M494.8,498 v2.500 M497.6,498 v2.500 M516.0,498 v2.500 M525.4,498 v2.500 M532.1,498 v2.500 M537.3,498 v2.500 M541.5,498 v2.500 M545.0,498 v2.500 M548.1,498 v2.500 M550.9,498 v2.500 M569.3,498 v2.500 M578.7,498 v2.500 M585.4,498 v2.500 M590.6,498 v2.500 M594.8,498 v2.500 M598.3,498 v2.500 M601.4,498 v2.500 M604.2,498 v2.500 M622.6,498 v2.500 M632.0,498 v2.500 M638.7,498 v2.500 M643.9,498 v2.500 M648.1,498 v2.500 M651.6,498 v2.500 M654.7,498 v2.500 M657.5,498 v2.500 M675.9,498 v2.500 M685.3,498 v2.500 M692.0,498 v2.500 M697.2,498 v2.500 M701.4,498 v2.500 M704.9,498 v2.500 M708.0,498 v2.500 M710.8,498 v2.500 M729.2,498 v2.500 M738.6,498 v2.500 M745.3,498 v2.500 M750.5,498 v2.500 M754.7,498 v2.500 M758.2,498 v2.500 M761.3,498 v2.500 M764.1,498 v2.500 M782.5,498 v2.500" stroke="#000" stroke-width="1.200"/>
<text x="476" y="485.3" class="b" font-size="11.500" text-anchor="end" textLength="6.5" lengthAdjust="spacingAndGlyphs" fill="#b01818">0</text>
<text x="476" y="452.4" class="b" font-size="11.500" text-anchor="end" textLength="16" lengthAdjust="spacingAndGlyphs" fill="#b01818">50</text>
<text x="476" y="419.5" class="b" font-size="11.500" text-anchor="end" textLength="24.3" lengthAdjust="spacingAndGlyphs" fill="#b01818">100</text>
<text x="476" y="386.6" class="b" font-size="11.500" text-anchor="end" textLength="24.3" lengthAdjust="spacingAndGlyphs" fill="#b01818">150</text>
<text x="476" y="353.7" class="b" font-size="11.500" text-anchor="end" textLength="24.3" lengthAdjust="spacingAndGlyphs" fill="#b01818">200</text>
<text x="476" y="320.8" class="b" font-size="11.500" text-anchor="end" textLength="24.3" lengthAdjust="spacingAndGlyphs" fill="#b01818">250</text>
<text x="476" y="287.9" class="b" font-size="11.500" text-anchor="end" textLength="24.3" lengthAdjust="spacingAndGlyphs" fill="#b01818">300</text>
<text x="792.800" y="466.1" class="b" font-size="11.500" textLength="6.5" lengthAdjust="spacingAndGlyphs" fill="#1b7d1b">0</text>
<text x="792.800" y="422.8" class="b" font-size="11.500" textLength="15.2" lengthAdjust="spacingAndGlyphs" fill="#1b7d1b">30</text>
<text x="792.800" y="379.5" class="b" font-size="11.500" textLength="15.2" lengthAdjust="spacingAndGlyphs" fill="#1b7d1b">60</text>
<text x="792.800" y="336.2" class="b" font-size="11.500" textLength="15.2" lengthAdjust="spacingAndGlyphs" fill="#1b7d1b">90</text>
<text x="792.800" y="292.9" class="b" font-size="11.500" textLength="23.4" lengthAdjust="spacingAndGlyphs" fill="#1b7d1b">120</text>
<text x="867.500" y="470.6" class="b" font-size="11.500" textLength="6.5" lengthAdjust="spacingAndGlyphs" fill="#2b83d3">0</text>
<text x="867.500" y="421.7" class="b" font-size="11.500" textLength="24.4" lengthAdjust="spacingAndGlyphs" fill="#2b83d3">400</text>
<text x="867.500" y="372.8" class="b" font-size="11.500" textLength="24.4" lengthAdjust="spacingAndGlyphs" fill="#2b83d3">800</text>
<text x="867.500" y="323.9" class="b" font-size="11.500" textLength="32" lengthAdjust="spacingAndGlyphs" fill="#2b83d3">1200</text>
<text x="490.5" y="518.300" class="b" font-size="11.500" textLength="13.500" lengthAdjust="spacingAndGlyphs" fill="#111">10</text>
<text x="505.2" y="511.500" class="b" font-size="6.500" fill="#111">3</text>
<text x="543.8" y="518.300" class="b" font-size="11.500" textLength="13.500" lengthAdjust="spacingAndGlyphs" fill="#111">10</text>
<text x="558.5" y="511.500" class="b" font-size="6.500" fill="#111">4</text>
<text x="597.1" y="518.300" class="b" font-size="11.500" textLength="13.500" lengthAdjust="spacingAndGlyphs" fill="#111">10</text>
<text x="611.8" y="511.500" class="b" font-size="6.500" fill="#111">5</text>
<text x="650.4" y="518.300" class="b" font-size="11.500" textLength="13.500" lengthAdjust="spacingAndGlyphs" fill="#111">10</text>
<text x="665.1" y="511.500" class="b" font-size="6.500" fill="#111">6</text>
<text x="703.7" y="518.300" class="b" font-size="11.500" textLength="13.500" lengthAdjust="spacingAndGlyphs" fill="#111">10</text>
<text x="718.4" y="511.500" class="b" font-size="6.500" fill="#111">7</text>
<text x="757.0" y="518.300" class="b" font-size="11.500" textLength="13.500" lengthAdjust="spacingAndGlyphs" fill="#111">10</text>
<text x="771.7" y="511.500" class="b" font-size="6.500" fill="#111">8</text>
<text x="498.200" y="373.500" class="b" font-size="17" textLength="120.500" lengthAdjust="spacingAndGlyphs" fill="#111">P = 115.6 W m</text>
<text x="619.500" y="366" class="b" font-size="10.500" textLength="8.500" lengthAdjust="spacingAndGlyphs" fill="#111">-2</text>
<text x="498.200" y="409.500" class="b" font-size="17" textLength="74.500" lengthAdjust="spacingAndGlyphs" fill="#111">R = 4 MΩ</text>
<text x="508.400" y="537" class="b" font-size="17" textLength="250" lengthAdjust="spacingAndGlyphs" fill="#111">External load resistance (ohm)</text>
<g transform="translate(432.300,502.500) rotate(-90)" fill="#b01818"><text x="0" y="0" class="b" font-size="18" textLength="202" lengthAdjust="spacingAndGlyphs">Current density (mA m</text><text x="202.500" y="-7.500" class="b" font-size="10.500" textLength="8.500" lengthAdjust="spacingAndGlyphs">-2</text><text x="211.500" y="0" class="b" font-size="18">)</text></g>
<g transform="translate(838.300,491) rotate(-90)" fill="#628f2c"><text x="0" y="0" class="b" font-size="18" textLength="180" lengthAdjust="spacingAndGlyphs">Power density (W m</text><text x="180.500" y="-7.500" class="b" font-size="10.500" textLength="8.500" lengthAdjust="spacingAndGlyphs">-2</text><text x="189.500" y="0" class="b" font-size="18">)</text></g>
<text transform="translate(918,441) rotate(-90)" class="b" font-size="19" textLength="94.500" lengthAdjust="spacingAndGlyphs" fill="#1f78c8">Voltage (V)</text>
</g><g id="panelF">
<clipPath id="cpf"><rect x="991" y="291" width="258.3" height="183.9"/></clipPath>
<g clip-path="url(#cpf)">
<path d="M991.0,474.6 C994.2,473.2 1001.8,470.4 1010.0,466.0 C1018.2,461.6 1029.8,454.2 1040.0,448.5 C1050.2,442.8 1060.7,437.2 1071.0,432.0 C1081.3,426.8 1090.0,422.2 1102.0,417.0 C1114.0,411.8 1128.3,406.3 1143.0,400.5 C1157.7,394.7 1172.2,388.9 1190.0,382.0 C1207.8,375.1 1240.0,363.1 1250.0,359.3" fill="none" stroke="#1fb41f" stroke-width="3.600"/>
<path d="M991.0,474.3 C992.0,473.7 994.8,472.4 997.0,470.5 C999.2,468.6 1000.5,467.1 1004.3,463.0 C1008.0,458.9 1014.4,451.6 1019.5,446.0 C1024.6,440.4 1028.6,436.0 1034.7,429.5 C1040.8,423.0 1048.9,414.4 1056.0,406.8 C1063.1,399.2 1068.3,393.4 1077.3,384.0 C1086.3,374.6 1099.5,361.2 1110.0,350.5 C1120.5,339.8 1130.0,330.1 1140.0,320.0 C1150.0,309.9 1165.0,295.0 1170.0,290.0" fill="none" stroke="#c63c1a" stroke-width="3"/>
</g>
<rect x="991" y="291" width="258.3" height="183.9" fill="none" stroke="#000" stroke-width="1.500"/>
<path d="M991,474.9 h-4.500 M991,428.8 h-4.500 M991,382.8 h-4.500 M991,336.7 h-4.500 M991,290.7 h-4.500 M991,451.9 h-2.500 M991,405.8 h-2.500 M991,359.8 h-2.500 M991,313.7 h-2.500 M991.0,474.9 v4.500 M1055.6,474.9 v4.500 M1120.2,474.9 v4.500 M1184.7,474.9 v4.500 M1249.3,474.9 v4.500 M1023.3,474.9 v2.500 M1087.9,474.9 v2.500 M1152.5,474.9 v2.500 M1217.0,474.9 v2.500" stroke="#000" stroke-width="1.300"/>
<text x="983.600" y="478.1" class="b" font-size="10.800" text-anchor="end" textLength="6.800" lengthAdjust="spacingAndGlyphs" fill="#111">0</text>
<text x="983.600" y="432.0" class="b" font-size="10.800" text-anchor="end" textLength="6.800" lengthAdjust="spacingAndGlyphs" fill="#111">2</text>
<text x="983.600" y="386.0" class="b" font-size="10.800" text-anchor="end" textLength="6.800" lengthAdjust="spacingAndGlyphs" fill="#111">4</text>
<text x="983.600" y="339.9" class="b" font-size="10.800" text-anchor="end" textLength="6.800" lengthAdjust="spacingAndGlyphs" fill="#111">6</text>
<text x="983.600" y="293.9" class="b" font-size="10.800" text-anchor="end" textLength="6.800" lengthAdjust="spacingAndGlyphs" fill="#111">8</text>
<text x="991.0" y="489.600" class="b" font-size="10.500" text-anchor="middle" textLength="6.5" lengthAdjust="spacingAndGlyphs" fill="#111">0</text>
<text x="1055.6" y="489.600" class="b" font-size="10.500" text-anchor="middle" textLength="20" lengthAdjust="spacingAndGlyphs" fill="#111">100</text>
<text x="1120.2" y="489.600" class="b" font-size="10.500" text-anchor="middle" textLength="20" lengthAdjust="spacingAndGlyphs" fill="#111">200</text>
<text x="1184.7" y="489.600" class="b" font-size="10.500" text-anchor="middle" textLength="20" lengthAdjust="spacingAndGlyphs" fill="#111">300</text>
<text x="1249.3" y="489.600" class="b" font-size="10.500" text-anchor="middle" textLength="20" lengthAdjust="spacingAndGlyphs" fill="#111">400</text>
<path d="M1008.500,314.500 H1024" stroke="#c63c1a" stroke-width="3"/>
<path d="M1008.500,336 H1024" stroke="#1fb41f" stroke-width="3"/>
<text x="1033.300" y="320" class="b" font-size="13.500" textLength="45" lengthAdjust="spacingAndGlyphs" fill="#111">470 µF</text>
<text x="1033.300" y="341.500" class="b" font-size="13.500" textLength="32" lengthAdjust="spacingAndGlyphs" fill="#111">1 mF</text>
<text x="1085.500" y="463.600" class="b" font-size="15" textLength="131" lengthAdjust="spacingAndGlyphs" fill="#111">Frequency = 3 Hz</text>
<text x="1078" y="509" class="b" font-size="18" textLength="69.500" lengthAdjust="spacingAndGlyphs" fill="#111">Time (s)</text>
<text transform="translate(954,437.500) rotate(-90)" class="b" font-size="18" textLength="96" lengthAdjust="spacingAndGlyphs" fill="#111">Voltage (V)</text>
<g transform="translate(1058.500,432) rotate(-47)"><text x="0" y="0" class="b" font-size="13.500" textLength="56" lengthAdjust="spacingAndGlyphs" fill="#b01c1c">13.6 µC s</text><text x="56.500" y="-5.500" class="b" font-size="8" fill="#b01c1c">-1</text></g>
<g transform="translate(1075.500,454.500) rotate(-28.500)"><text x="0" y="0" class="b" font-size="13.500" textLength="60" lengthAdjust="spacingAndGlyphs" fill="#1fb055">12.6 µC s</text><text x="60.500" y="-5.500" class="b" font-size="8" fill="#1fb055">-1</text></g>
</g><g id="letters">
<text x="34.40" y="51.90" class="b" font-size="33.4" fill="#000">a</text>
<text x="573.40" y="34.20" class="b" font-size="33.4" fill="#000">b</text>
<text x="889.30" y="33.00" class="b" font-size="33.4" fill="#000">c</text>
<text x="12.95" y="278.10" class="b" font-size="33.4" fill="#000">d</text>
<text x="388.60" y="283.90" class="b" font-size="33.4" fill="#000">e</text>
<text x="928.20" y="289.60" class="b" font-size="33.4" fill="#000">f</text>
</g></g>
</svg>
</body></html>
